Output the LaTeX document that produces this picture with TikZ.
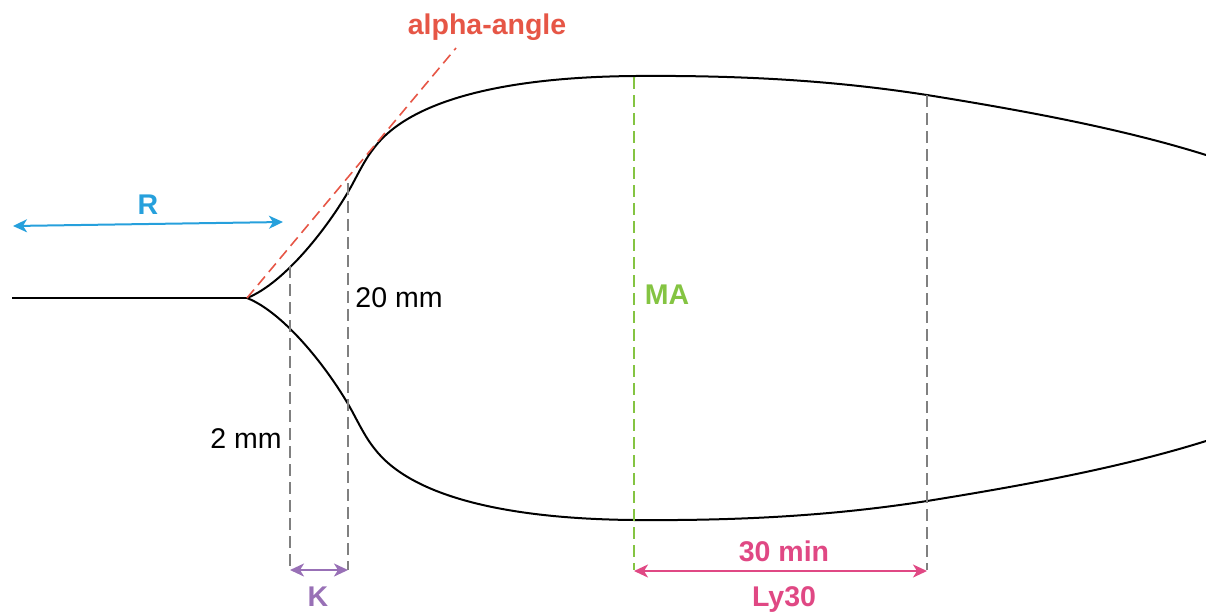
\documentclass[tikz,border=0pt]{standalone}
\usepackage{fontspec}
\setmainfont{Liberation Sans}
\usetikzlibrary{arrows.meta}
\definecolor{cblue}{RGB}{38,160,220}
\definecolor{cgreen}{RGB}{132,196,66}
\definecolor{cpink}{RGB}{224,72,132}
\definecolor{cpurple}{RGB}{152,112,182}
\definecolor{cred}{RGB}{230,86,70}
\definecolor{cgray}{RGB}{128,128,128}
\begin{document}
\begin{tikzpicture}[x=1pt,y=-1pt,
  trace/.style={line width=2pt,black},
  guide/.style={line width=1.6pt,dash pattern=on 12pt off 6pt},
  dimarrow/.style={line width=2pt,{Stealth[length=14pt,width=13pt,inset=4pt]}-{Stealth[length=14pt,width=13pt,inset=4pt]}},
  lbl/.style={font=\fontsize{28.5}{31}\selectfont\bfseries,inner sep=0pt},
  txt/.style={font=\fontsize{28.5}{31}\selectfont,inner sep=0pt}]
\useasboundingbox (0,0) rectangle (1206,614);
% key points
\coordinate (L) at (12,298);
\coordinate (S) at (247,298);
\coordinate (Utop) at (635,76);
\coordinate (Ltop) at (635,520);
% traces
\draw[trace] (L) -- (S);
\draw[trace] (S) .. controls (285,283) and (330,225) .. (352,185)
  .. controls (360,170) and (366,158) .. (374,148)
  .. controls (410,100) and (505,77) .. (Utop)
  .. controls (760,75) and (850,83) .. (927,95)
  .. controls (1020,110) and (1120,128) .. (1206,155);
\draw[trace] (S) .. controls (285,313) and (330,371) .. (352,411)
  .. controls (360,426) and (366,438) .. (374,448)
  .. controls (410,496) and (505,519) .. (Ltop)
  .. controls (760,521) and (850,513) .. (927,501)
  .. controls (1020,486) and (1120,468) .. (1206,441);
% alpha tangent
\coordinate (Atop) at (456,48);
\draw[guide,cred,dash pattern=on 11pt off 6pt] (S) -- (Atop);
\node[lbl,text=cred] (alpha) at (487,27) {alpha-angle};
% vertical guides
\coordinate (k1t) at (290,266);
\coordinate (k1b) at (290,570);
\coordinate (k2t) at (348,183);
\coordinate (k2b) at (348,570);
\coordinate (mat) at (634,77);
\coordinate (mab) at (634,570);
\coordinate (l3t) at (927,95);
\coordinate (l3b) at (927,570);
\draw[guide,cgray] (k1t) -- (k1b);
\draw[guide,cgray] (k2t) -- (k2b);
\draw[guide,cgreen] (mat) -- (mab);
\draw[guide,cgray] (l3t) -- (l3b);
% R arrow
\coordinate (r1) at (13,226);
\coordinate (r2) at (283,222);
\draw[dimarrow,cblue] (r1) -- (r2);
\node[lbl,text=cblue] (R) at (148,205) {R};
% K arrow
\coordinate (ka) at (290,570);
\coordinate (kb) at (348,570);
\draw[dimarrow,cpurple] (ka) -- (kb);
\node[lbl,text=cpurple] (K) at (318,597) {K};
% Ly30 arrow
\coordinate (la) at (634,571);
\coordinate (lb) at (927,571);
\draw[dimarrow,cpink] (la) -- (lb);
\node[lbl,text=cpink] (min) at (784,551) {30 min};
\node[lbl,text=cpink] (ly) at (784,599) {Ly30};
% other labels
\node[lbl,text=cgreen] (MA) at (667,295) {MA};
\node[txt] (t20) at (399,298) {20 mm};
\node[txt] (t2) at (246,439) {2 mm};
\end{tikzpicture}
\end{document}
